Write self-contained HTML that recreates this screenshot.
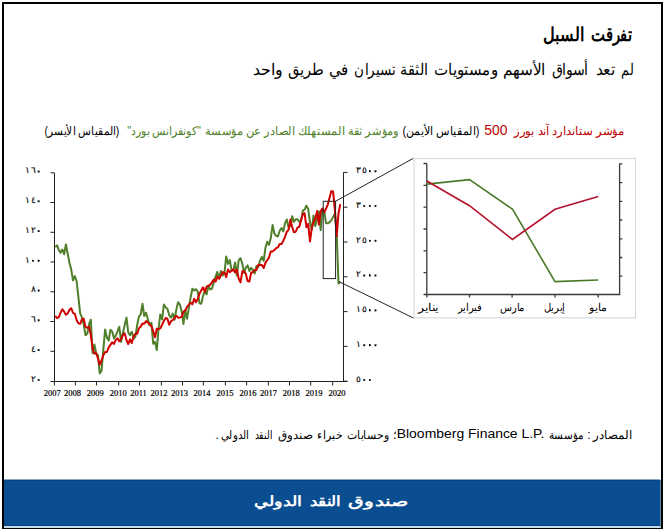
<!DOCTYPE html>
<html lang="ar">
<head>
<meta charset="utf-8">
<style>
html,body{margin:0;padding:0;background:#fff;}
body{width:666px;height:531px;position:relative;overflow:hidden;font-family:"Liberation Sans",sans-serif;color:#000;}
.frame{position:absolute;left:2px;top:2px;width:661px;height:527px;box-sizing:border-box;border:2px solid #000;border-bottom-width:1px;}
.lite{position:absolute;left:4px;top:526px;width:657px;height:2px;background:#c8dce6;}
.liter{position:absolute;left:660px;top:480px;width:1px;height:47px;background:#5b87a9;}
.band{position:absolute;left:4px;top:479px;width:656px;height:47px;background:linear-gradient(to bottom,#8aa8c4 0,#8aa8c4 1px,#08427f 1px,#08427f 2px,#0a4d91 2px,#0a4d91 46px,#08427f 46px);}
.t{position:absolute;white-space:nowrap;direction:rtl;line-height:1;}
.b{font-weight:bold}.w{color:#fff}.r{color:#c00000}.g{color:#4f7f2a}.k{color:#000}
svg{position:absolute;left:0;top:0;}
.ax{font-family:"Liberation Serif",serif;font-size:8.5px;stroke:#000;stroke-width:0.2px;}
.ar{font-family:"Liberation Sans",sans-serif;font-size:9px;stroke:#000;stroke-width:0.12px;}
.mo{font-family:"Liberation Sans",sans-serif;font-size:10.5px;}
</style>
</head>
<body>
<div class="frame"></div>
<div class="lite"></div><div class="liter"></div><div class="band"></div>
<div class="t b" style="right:33.70px;top:25.5px;font-size:18.5px;transform:scaleX(0.7788);transform-origin:100% 0">تفرقت</div>
<div class="t b" style="right:81.65px;top:25.5px;font-size:18.5px;transform:scaleX(0.8478);transform-origin:100% 0">السبل</div>
<div class="t " style="right:32.00px;top:62.4px;font-size:16px;transform:scaleX(0.8000);transform-origin:100% 0">لم</div>
<div class="t " style="right:51.40px;top:62.4px;font-size:16px;transform:scaleX(0.9737);transform-origin:100% 0">تعد</div>
<div class="t " style="right:78.40px;top:62.4px;font-size:16px;transform:scaleX(0.8825);transform-origin:100% 0">أسواق</div>
<div class="t " style="right:121.04px;top:62.4px;font-size:16px;transform:scaleX(0.9595);transform-origin:100% 0">الأسهم</div>
<div class="t " style="right:168.26px;top:62.4px;font-size:16px;transform:scaleX(0.9364);transform-origin:100% 0">ومستويات</div>
<div class="t " style="right:237.90px;top:62.4px;font-size:16px;transform:scaleX(0.9034);transform-origin:100% 0">الثقة</div>
<div class="t " style="right:271.40px;top:62.4px;font-size:16px;transform:scaleX(0.8468);transform-origin:100% 0">تسيران</div>
<div class="t " style="right:317.15px;top:62.4px;font-size:16px;transform:scaleX(0.9474);transform-origin:100% 0">في</div>
<div class="t " style="right:342.08px;top:62.4px;font-size:16px;transform:scaleX(0.9189);transform-origin:100% 0">طريق</div>
<div class="t " style="right:382.81px;top:62.4px;font-size:16px;transform:scaleX(0.9929);transform-origin:100% 0">واحد</div>
<div class="t r" style="right:42.10px;top:124.5px;font-size:12px;transform:scaleX(0.9754);transform-origin:100% 0">مؤشر ستاندارد آند بورز</div>
<div class="t r" style="right:158.70px;top:122.8px;font-size:14px;transform:scaleX(0.9913);transform-origin:100% 0">500</div>
<div class="t k" style="right:187.00px;top:124.5px;font-size:12px;transform:scaleX(0.9229);transform-origin:100% 0">(المقياس الأيمن)</div>
<div class="t g" style="right:267.65px;top:124.5px;font-size:12px;transform:scaleX(0.9537);transform-origin:100% 0">ومؤشر ثقة المستهلك الصادر عن مؤسسة</div>
<div class="t g" style="right:465.30px;top:124.5px;font-size:12px;transform:scaleX(0.9099);transform-origin:100% 0">"كونفرانس بورد"</div>
<div class="t k" style="right:546.70px;top:124.5px;font-size:12px;transform:scaleX(0.8765);transform-origin:100% 0">(المقياس الأيسر)</div>
<svg width="666" height="531" viewBox="0 0 666 531">
<g fill="none" stroke="#222" stroke-width="1">
<!-- main left axis -->
<path d="M54.5,172.8V381.5M50.5,381.5H347.5M343.5,381.5V172.4"/>
<path d="M50.5,172.8H54.5M50.5,202.5H54.5M50.5,232.3H54.5M50.5,262H54.5M50.5,291.8H54.5M50.5,321.5H54.5M50.5,351.3H54.5"/>
<path d="M343.5,172.4H347.5M343.5,207.2H347.5M343.5,242H347.5M343.5,276.8H347.5M343.5,311.6H347.5M343.5,346.4H347.5M343.5,381.2H347.5"/>
<path d="M54.4,381.5V385.5M75.4,381.5V385.5M96.5,381.5V385.5M118.7,381.5V385.5M139.5,381.5V385.5M161.4,381.5V385.5M182.5,381.5V385.5M203.4,381.5V385.5M225.4,381.5V385.5M246.6,381.5V385.5M268.4,381.5V385.5M289.5,381.5V385.5M310.7,381.5V385.5M332.7,381.5V385.5"/>
</g>
<path d="M55.2,246.9 L57.0,245.4 L58.8,249.9 L60.5,252.7 L62.3,249.5 L64.1,254.2 L65.9,244.4 L67.7,253.8 L69.5,262.9 L71.2,269.3 L73.0,280.3 L74.8,276.1 L76.6,281.0 L78.4,297.2 L80.1,312.9 L81.9,317.5 L83.7,324.5 L85.5,335.1 L87.3,333.7 L89.1,323.9 L90.8,319.6 L92.6,353.2 L94.4,344.4 L96.2,353.5 L98.0,355.3 L99.7,373.3 L101.5,370.9 L103.3,350.2 L105.1,329.4 L106.9,337.6 L108.7,340.4 L110.4,329.8 L112.2,331.5 L114.0,338.5 L115.8,335.6 L117.6,331.2 L119.3,326.9 L121.1,341.9 L122.9,333.1 L124.7,325.1 L126.5,317.6 L128.2,332.2 L130.0,335.1 L131.8,331.8 L133.6,338.6 L135.4,336.7 L137.2,324.9 L138.9,316.6 L140.7,314.5 L142.5,303.8 L144.3,316.0 L146.1,312.7 L147.8,319.1 L149.6,325.2 L151.4,322.8 L153.2,343.7 L155.0,341.9 L156.8,350.1 L158.5,328.8 L160.3,314.5 L162.1,319.4 L163.9,304.4 L165.7,307.5 L167.4,308.7 L169.2,315.1 L171.0,317.6 L172.8,313.6 L174.6,319.7 L176.4,309.2 L178.1,302.2 L179.9,304.5 L181.7,311.7 L183.5,324.0 L185.3,309.7 L187.0,318.8 L188.8,308.3 L190.6,297.5 L192.4,288.8 L194.2,290.4 L196.0,289.2 L197.7,291.6 L199.5,303.2 L201.3,303.8 L203.1,295.6 L204.9,290.8 L206.6,294.4 L208.4,286.1 L210.2,289.4 L212.0,288.6 L213.8,282.4 L215.6,276.6 L217.3,271.9 L219.1,278.5 L220.9,270.9 L222.7,275.5 L224.5,272.4 L226.2,256.5 L228.0,263.9 L229.8,260.0 L231.6,270.6 L233.4,270.2 L235.1,262.4 L236.9,275.5 L238.7,260.2 L240.5,258.2 L242.3,263.5 L244.1,273.1 L245.8,267.6 L247.6,265.4 L249.4,271.0 L251.2,267.8 L253.0,270.0 L254.7,273.4 L256.5,266.0 L258.3,267.0 L260.1,260.5 L261.9,256.9 L263.7,260.9 L265.4,248.1 L267.2,241.7 L269.0,244.8 L270.8,238.1 L272.6,225.0 L274.3,233.2 L276.1,235.9 L277.9,236.4 L279.7,230.7 L281.5,228.0 L283.3,231.4 L285.0,223.1 L286.8,219.5 L288.6,227.7 L290.4,225.9 L292.2,216.3 L293.9,221.9 L295.7,219.2 L297.5,219.2 L299.3,221.8 L301.1,220.6 L302.9,210.5 L304.6,209.6 L306.4,205.7 L308.2,209.0 L310.0,222.5 L311.8,229.8 L313.5,215.4 L315.3,226.1 L317.1,218.6 L318.9,211.4 L320.7,230.1 L322.4,208.8 L324.2,211.2 L326.0,223.0 L327.8,223.3 L329.6,222.2 L331.4,220.1 L333.1,216.9 L334.9,213.6 L336.7,234.1 L338.5,283.4 L340.3,282.1" fill="none" stroke="#4f7f2a" stroke-width="2" stroke-linejoin="round"/>
<path d="M55.2,315.9 L57.0,318.1 L58.8,317.1 L60.5,312.9 L62.3,309.4 L64.1,311.4 L65.9,314.7 L67.7,313.4 L69.5,309.7 L71.2,308.2 L73.0,312.9 L74.8,313.8 L76.6,320.0 L78.4,323.4 L80.1,323.9 L81.9,319.5 L83.7,318.6 L85.5,326.9 L87.3,327.8 L89.1,326.7 L90.8,334.8 L92.6,348.6 L94.4,353.6 L96.2,353.2 L98.0,358.5 L99.7,364.8 L101.5,360.5 L103.3,355.2 L105.1,352.0 L106.9,352.0 L108.7,347.3 L110.4,344.9 L112.2,342.4 L114.0,343.9 L115.8,339.7 L117.6,338.4 L119.3,341.2 L121.1,339.2 L122.9,334.6 L124.7,333.4 L126.5,340.2 L128.2,344.2 L130.0,339.3 L131.8,343.0 L133.6,336.6 L135.4,333.7 L137.2,333.8 L138.9,328.4 L140.7,326.5 L142.5,323.6 L144.3,323.7 L146.1,321.1 L147.8,322.4 L149.6,324.1 L151.4,326.1 L153.2,331.2 L155.0,337.3 L156.8,328.8 L158.5,329.2 L160.3,328.4 L162.1,324.7 L163.9,320.9 L165.7,318.0 L167.4,318.7 L169.2,324.8 L171.0,321.2 L172.8,320.0 L174.6,318.1 L176.4,315.7 L178.1,317.7 L179.9,317.4 L181.7,316.8 L183.5,311.7 L185.3,310.6 L187.0,306.8 L188.8,304.8 L190.6,302.5 L192.4,304.2 L194.2,298.7 L196.0,302.3 L197.7,298.9 L199.5,293.7 L201.3,290.3 L203.1,287.4 L204.9,291.9 L206.6,286.6 L208.4,285.7 L210.2,284.9 L212.0,282.1 L213.8,279.6 L215.6,281.6 L217.3,276.6 L219.1,278.7 L220.9,275.5 L222.7,272.1 L224.5,272.7 L226.2,277.1 L228.0,269.5 L229.8,272.1 L231.6,270.8 L233.4,269.4 L235.1,272.4 L236.9,269.6 L238.7,278.7 L240.5,282.4 L242.3,271.3 L244.1,271.2 L245.8,273.7 L247.6,281.0 L249.4,281.5 L251.2,272.6 L253.0,272.3 L254.7,270.0 L256.5,269.9 L258.3,264.7 L260.1,264.9 L261.9,265.1 L263.7,268.0 L265.4,262.9 L267.2,260.2 L269.0,257.4 L270.8,251.5 L272.6,251.5 L274.3,250.1 L276.1,248.1 L277.9,247.4 L279.7,244.1 L281.5,243.9 L283.3,240.7 L285.0,236.8 L286.8,231.7 L288.6,229.9 L290.4,219.4 L292.2,227.1 L293.9,232.2 L295.7,231.7 L297.5,227.7 L299.3,226.8 L301.1,220.0 L302.9,214.0 L304.6,213.2 L306.4,227.2 L308.2,223.9 L310.0,241.5 L311.8,227.8 L313.5,222.2 L315.3,218.8 L317.1,211.0 L318.9,224.5 L320.7,211.2 L322.4,208.6 L324.2,212.4 L326.0,208.8 L327.8,204.6 L329.6,197.4 L331.4,191.1 L333.1,191.5 L334.9,210.4 L336.7,236.1 L338.5,213.3 L340.3,204.1" fill="none" stroke="#d00000" stroke-width="2" stroke-linejoin="round"/>
<!-- zoom box and connectors -->
<g fill="none" stroke="#222" stroke-width="1">
<rect x="323.2" y="201.3" width="12.4" height="77.3"/>
<path d="M335.5,201.3L413.2,158.4M338.8,281.5L413.6,318.1"/>
</g>
<!-- inset -->
<rect x="414.1" y="158.6" width="221.4" height="159.2" fill="#fff" stroke="#dadada" stroke-width="1.2"/>
<g fill="none" stroke="#000" stroke-width="1">
<path d="M426.8,163.5V294.5H619.6V163.5" stroke="#3a3a3a" stroke-width="1.3"/>
<path stroke="#3a3a3a" stroke-width="1.3" d="M423.5,163.5H426.8M423.5,185.3H426.8M423.5,207.2H426.8M423.5,229H426.8M423.5,250.8H426.8M423.5,272.7H426.8M423.5,294.5H426.8"/>
<path d="M619.6,163.9H622.3M619.6,182.6H622.3M619.6,201.3H622.3M619.6,220H622.3M619.6,238.8H622.3M619.6,257.5H622.3M619.6,276.2H622.3" stroke="#3a3a3a" stroke-width="1.3"/>
<path stroke="#3a3a3a" stroke-width="1.3" d="M426.9,294.5V297.5M469.5,294.5V297.5M512.1,294.5V297.5M555,294.5V297.5M598.2,294.5V297.5"/>
</g>
<path d="M426.8,184.1L469.5,179.7L512.6,209.3L555,281.6L598.2,280" fill="none" stroke="#4a7a28" stroke-width="1.6"/>
<path d="M426.8,181L469.5,205.7L512.4,239.4L555,209.3L598.2,196.5" fill="none" stroke="#b5122e" stroke-width="1.6"/>
<g class="ax">
<text x="52.3" y="396" text-anchor="middle">2007</text>
<text x="72.4" y="396" text-anchor="middle">2008</text>
<text x="95.3" y="396" text-anchor="middle">2009</text>
<text x="118.3" y="396" text-anchor="middle">2010</text>
<text x="138.5" y="396" text-anchor="middle">2011</text>
<text x="158.9" y="396" text-anchor="middle">2012</text>
<text x="179.4" y="396" text-anchor="middle">2013</text>
<text x="202.0" y="396" text-anchor="middle">2014</text>
<text x="225.0" y="396" text-anchor="middle">2015</text>
<text x="247.9" y="396" text-anchor="middle">2016</text>
<text x="268.4" y="396" text-anchor="middle">2017</text>
<text x="291.2" y="396" text-anchor="middle">2018</text>
<text x="314.0" y="396" text-anchor="middle">2019</text>
<text x="337.0" y="396" text-anchor="middle">2020</text>
</g>
<g class="ar" text-anchor="middle" fill="#000">
<text x="27.0" y="173.4">١</text>
<text x="33.0" y="173.4">٦</text>
<rect x="37.85" y="170.75" width="1.7" height="1.7"/>
<text x="27.0" y="203.1">١</text>
<text x="33.0" y="203.1">٤</text>
<rect x="37.85" y="200.45" width="1.7" height="1.7"/>
<text x="27.0" y="232.9">١</text>
<text x="33.0" y="232.9">٢</text>
<rect x="37.85" y="230.25" width="1.7" height="1.7"/>
<text x="27.0" y="262.6">١</text>
<rect x="32.15" y="259.95" width="1.7" height="1.7"/>
<rect x="37.85" y="259.95" width="1.7" height="1.7"/>
<text x="33.0" y="292.4">٨</text>
<rect x="37.85" y="289.75" width="1.7" height="1.7"/>
<text x="33.0" y="322.1">٦</text>
<rect x="37.85" y="319.45" width="1.7" height="1.7"/>
<text x="33.0" y="351.9">٤</text>
<rect x="37.85" y="349.25" width="1.7" height="1.7"/>
<text x="33.0" y="381.8">٢</text>
<rect x="37.85" y="379.15" width="1.7" height="1.7"/>
<text x="358.8" y="173.0">٣</text>
<text x="364.2" y="173.0">٥</text>
<rect x="369.05" y="170.35" width="1.7" height="1.7"/>
<rect x="374.65" y="170.35" width="1.7" height="1.7"/>
<text x="358.8" y="207.8">٣</text>
<rect x="363.35" y="205.15" width="1.7" height="1.7"/>
<rect x="369.05" y="205.15" width="1.7" height="1.7"/>
<rect x="374.65" y="205.15" width="1.7" height="1.7"/>
<text x="358.8" y="242.6">٢</text>
<text x="364.2" y="242.6">٥</text>
<rect x="369.05" y="239.95" width="1.7" height="1.7"/>
<rect x="374.65" y="239.95" width="1.7" height="1.7"/>
<text x="358.8" y="277.4">٢</text>
<rect x="363.35" y="274.75" width="1.7" height="1.7"/>
<rect x="369.05" y="274.75" width="1.7" height="1.7"/>
<rect x="374.65" y="274.75" width="1.7" height="1.7"/>
<text x="358.8" y="312.2">١</text>
<text x="364.2" y="312.2">٥</text>
<rect x="369.05" y="309.55" width="1.7" height="1.7"/>
<rect x="374.65" y="309.55" width="1.7" height="1.7"/>
<text x="358.8" y="347.0">١</text>
<rect x="363.35" y="344.35" width="1.7" height="1.7"/>
<rect x="369.05" y="344.35" width="1.7" height="1.7"/>
<rect x="374.65" y="344.35" width="1.7" height="1.7"/>
<text x="358.8" y="381.8">٥</text>
<rect x="363.35" y="379.15" width="1.7" height="1.7"/>
<rect x="369.05" y="379.15" width="1.7" height="1.7"/>
</g>
<g class="mo" text-anchor="middle">
<text x="428.5" y="311" textLength="20.4" lengthAdjust="spacingAndGlyphs">يناير</text>
<text x="469.5" y="311" textLength="23.6" lengthAdjust="spacingAndGlyphs">فبراير</text>
<text x="512.5" y="311" textLength="24.2" lengthAdjust="spacingAndGlyphs">مارس</text>
<text x="554.5" y="311" textLength="21" lengthAdjust="spacingAndGlyphs">إبريل</text>
<text x="598.1" y="311" textLength="17.8" lengthAdjust="spacingAndGlyphs">مايو</text>
</g>
</svg>
<div class="t" style="right:34.20px;top:429.0px;font-size:12px;transform:scaleX(0.9875);transform-origin:100% 0">المصادر</div>
<div class="t" style="right:75.35px;top:429.0px;font-size:12px;transform:scaleX(1.0000);transform-origin:100% 0">:</div>
<div class="t" style="right:83.20px;top:429.0px;font-size:12px;transform:scaleX(0.8711);transform-origin:100% 0">مؤسسة</div>
<div class="t" style="direction:ltr;right:121.48px;top:427.9px;font-size:12.5px;transform:scaleX(1.1153);transform-origin:100% 0"><span dir=ltr>Bloomberg Finance L.P.</span></div>
<div class="t" style="right:269.40px;top:429.0px;font-size:12px;transform:scaleX(1.0000);transform-origin:100% 0">؛</div>
<div class="t" style="right:277.29px;top:429.0px;font-size:12px;transform:scaleX(0.9111);transform-origin:100% 0">وحسابات</div>
<div class="t" style="right:324.40px;top:429.0px;font-size:12px;transform:scaleX(0.9154);transform-origin:100% 0">خبراء</div>
<div class="t" style="right:353.40px;top:429.0px;font-size:12px;transform:scaleX(0.9914);transform-origin:100% 0">صندوق</div>
<div class="t" style="right:394.50px;top:429.0px;font-size:12px;transform:scaleX(0.7565);transform-origin:100% 0">النقد</div>
<div class="t" style="right:417.10px;top:429.0px;font-size:12px;transform:scaleX(0.8606);transform-origin:100% 0">الدولي</div>
<div class="t" style="right:447.05px;top:429.0px;font-size:12px;transform:scaleX(1.0000);transform-origin:100% 0">.</div>
<div class="t b w" style="right:257.55px;top:494.0px;font-size:14px;transform:scaleX(1.4525);transform-origin:100% 0">صندوق</div>
<div class="t b w" style="right:325.31px;top:494.0px;font-size:14px;transform:scaleX(1.1920);transform-origin:100% 0">النقد</div>
<div class="t b w" style="right:364.44px;top:494.0px;font-size:14px;transform:scaleX(1.2622);transform-origin:100% 0">الدولي</div>
</body>
</html>
